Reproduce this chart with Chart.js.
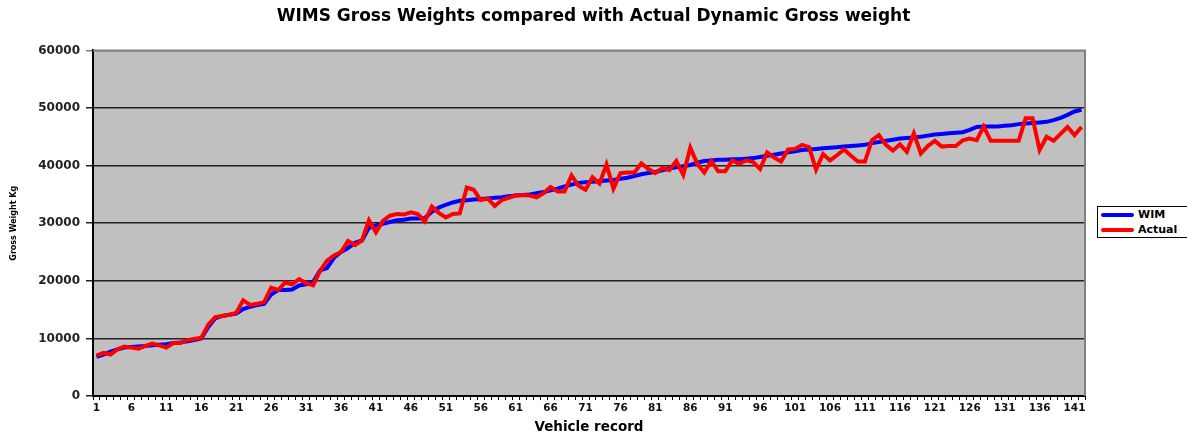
<!DOCTYPE html>
<html>
<head>
<meta charset="utf-8">
<script src="https://cdn.jsdelivr.net/npm/chart.js@4/dist/chart.umd.min.js"></script>
<style>
  body { margin: 0; background: #fff; }
  #wrap { position: relative; width: 1187px; height: 434px; }
  #legend {
    position: absolute; left: 1097px; top: 206px; width: 92px; height: 32px;
    border: 1px solid #000; background: #fff; box-sizing: border-box;
    font: bold 11px "DejaVu Sans", sans-serif; color: #000;
  }
  #legend div { position: absolute; left: 3px; height: 14px; line-height: 14px; white-space: nowrap; }
  #legend span { display: inline-block; width: 33px; height: 4px; vertical-align: middle; margin-right: 4px; border-radius: 2px; }
</style>
</head>
<body>
<div id="wrap">
  <canvas id="weightChart" width="1187" height="434"></canvas>
  <div id="legend">
    <div style="top:1px"><span style="background:#0000ff"></span>WIM</div>
    <div style="top:16px"><span style="background:#ff0000"></span>Actual</div>
  </div>
</div>
<script>
// vehicle record numbers 1..142
const vehicleRecords = Array.from({ length: 142 }, (_, i) => String(i + 1));

// WIM gross weight (kg)
const wimWeights = [
  6800, 7200, 7700, 8100, 8400, 8500, 8600, 8700, 8800, 8900,
  9000, 9200, 9300, 9500, 9700, 10000, 12000, 13500, 13900, 14100,
  14300, 15100, 15500, 15800, 16000, 17600, 18400, 18400, 18500, 19200,
  19400, 19800, 21800, 22200, 24000, 25000, 25700, 26600, 27000, 29200,
  29600, 29900, 30200, 30500, 30600, 30800, 30800, 30900, 32000, 32700,
  33200, 33600, 33900, 34000, 34100, 34200, 34300, 34400, 34500, 34700,
  34800, 34900, 35000, 35200, 35400, 35700, 36000, 36400, 36700, 37000,
  37100, 37200, 37300, 37400, 37500, 37700, 37900, 38200, 38500, 38700,
  38900, 39200, 39500, 39700, 39900, 40100, 40500, 40800, 40900, 41000,
  41000, 41100, 41100, 41200, 41300, 41500, 41700, 41900, 42100, 42300,
  42500, 42700, 42800, 42900, 43000, 43100, 43200, 43300, 43400, 43500,
  43600, 43900, 44100, 44300, 44500, 44700, 44800, 44900, 45000, 45200,
  45400, 45500, 45600, 45700, 45800, 46200, 46700, 46800, 46800, 46800,
  46900, 47000, 47200, 47300, 47400, 47500, 47600, 47900, 48300, 48800,
  49400, 49700
];

// actual dynamic gross weight (kg)
const actualWeights = [
  7000, 7500, 7200, 8100, 8600, 8400, 8200, 8700, 9100, 8800,
  8400, 9200, 9200, 9700, 9900, 10100, 12400, 13700, 13900, 14100,
  14400, 16600, 15800, 16000, 16300, 18800, 18400, 19700, 19400, 20300,
  19600, 19200, 21700, 23500, 24400, 25000, 26900, 26200, 27000, 30500,
  28400, 30400, 31300, 31600, 31500, 31900, 31600, 30300, 32900, 31800,
  31000, 31600, 31700, 36200, 35800, 34000, 34300, 33000, 34000, 34400,
  34800, 34900, 34800, 34500, 35200, 36300, 35500, 35500, 38300, 36500,
  35800, 38000, 36900, 40200, 36000, 38700, 38800, 38800, 40400, 39400,
  38700, 39600, 39200, 40800, 38400, 43100, 40300, 38800, 40800, 39000,
  39000, 40900, 40300, 40900, 40600, 39400, 42300, 41400, 40700, 42800,
  42900, 43600, 43200, 39300, 42000, 40900, 41800, 42800, 41700, 40700,
  40700, 44400, 45300, 43600, 42600, 43700, 42400, 45600, 42100, 43400,
  44300, 43300, 43400, 43400, 44400, 44700, 44400, 46800, 44300, 44300,
  44300, 44300, 44300, 48200, 48200, 42700, 45000, 44300, 45500, 46700,
  45300, 46700
];

const yTicks = [0, 10000, 20000, 30000, 40000, 50000, 60000];

// grey plot background + grey top/right border like the excel chart
const plotArea = {
  id: 'plotArea',
  beforeDraw(chart) {
    const { ctx, chartArea: a } = chart;
    ctx.save();
    ctx.fillStyle = '#c0c0c0';
    ctx.fillRect(a.left, a.top, a.right - a.left, a.bottom - a.top);
    ctx.restore();
  },
  afterDraw(chart) {
    const { ctx, chartArea: a } = chart;
    ctx.save();
    ctx.strokeStyle = '#808080';
    ctx.lineWidth = 2;
    ctx.beginPath();
    ctx.moveTo(a.left, a.top);
    ctx.lineTo(a.right, a.top);
    ctx.lineTo(a.right, a.bottom);
    ctx.stroke();
    ctx.restore();
  }
};

const ctx = document.getElementById('weightChart').getContext('2d');
const weightChart = new Chart(ctx, {
  type: 'line',
  data: {
    labels: vehicleRecords,
    datasets: [
      {
        label: 'WIM',
        data: wimWeights,
        borderColor: '#0000ff',
        borderWidth: 4,
        pointRadius: 0,
        tension: 0,
        order: 2
      },
      {
        label: 'Actual',
        data: actualWeights,
        borderColor: '#ff0000',
        borderWidth: 4,
        pointRadius: 0,
        tension: 0,
        order: 1
      }
    ]
  },
  options: {
    responsive: false,
    animation: false,
    devicePixelRatio: 1,
    layout: { padding: 0 },
    plugins: {
      legend: { display: false },
      tooltip: { enabled: false },
      title: {
        display: true,
        text: 'WIMS Gross Weights compared with Actual Dynamic Gross weight',
        color: '#000',
        font: { family: 'DejaVu Sans', size: 17, weight: 'bold', lineHeight: 1.2 },
        padding: { top: 6, bottom: 24 }
      }
    },
    scales: {
      x: {
        offset: true,
        grid: {
          display: true,
          drawOnChartArea: false,
          drawTicks: true,
          tickLength: 4,
          color: '#000',
          offset: true
        },
        border: { color: '#000', width: 2 },
        ticks: {
          autoSkip: false,
          maxRotation: 0,
          minRotation: 0,
          padding: 2,
          color: '#111',
          font: { family: 'DejaVu Sans', size: 10.5, weight: 'bold' },
          callback: (val, idx) => (idx % 5 === 0 ? vehicleRecords[idx] : '')
        },
        title: {
          display: true,
          text: 'Vehicle record',
          color: '#000',
          font: { family: 'DejaVu Sans', size: 13.5, weight: 'bold', lineHeight: 1 },
          padding: { top: 0, bottom: 0 }
        },
        afterFit(scale) { scale.height = 38; }
      },
      y: {
        min: 0,
        max: 60000,
        afterBuildTicks(scale) { scale.ticks = yTicks.map(v => ({ value: v })); },
        grid: {
          color: (c) => (c.tick && c.tick.value === 60000 ? '#808080' : '#222'),
          lineWidth: 1.5,
          tickLength: 7,
          drawTicks: true
        },
        border: { color: '#000', width: 2 },
        ticks: {
          padding: 6,
          color: '#222',
          font: { family: 'DejaVu Sans', size: 12, weight: 'bold' },
          callback: (v) => String(v)
        },
        title: {
          display: true,
          text: 'Gross Weight Kg',
          color: '#000',
          font: { family: 'DejaVu Sans', size: 8, weight: 'bold', lineHeight: 1.2 },
          padding: { top: 9, bottom: 0 }
        },
        afterFit(scale) { scale.width = 93; }
      },
      // empty right-hand axis that only reserves room for the legend
      legendSpace: {
        position: 'right',
        min: 0,
        max: 60000,
        grid: { drawOnChartArea: false, drawTicks: false },
        border: { display: false },
        ticks: { display: false },
        afterFit(scale) { scale.width = 102; }
      }
    }
  },
  plugins: [plotArea]
});
</script>
</body>
</html>
